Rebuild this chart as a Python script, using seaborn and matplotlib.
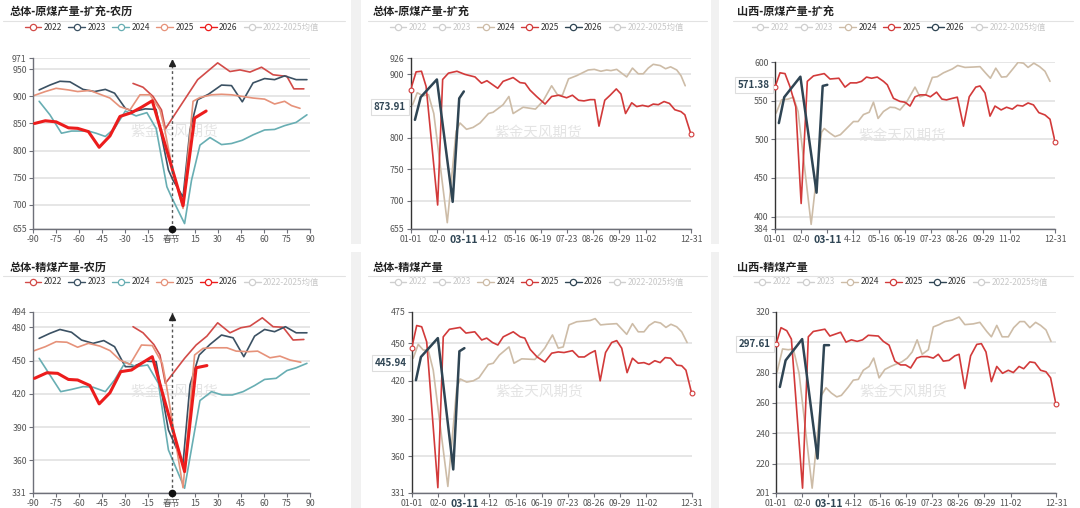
import matplotlib
matplotlib.use('Agg')
import matplotlib.pyplot as plt
from matplotlib.lines import Line2D
from matplotlib.patches import Rectangle
import matplotlib.transforms as mtrans
import pandas as pd
import seaborn as sns

# ---------------- data ----------------
# lunar panels: (days from spring festival, value)
RAW_LUNAR_2022 = [(-25, 924), (-18.5, 917), (-12, 900), (-6.5, 875), (-4, 840), (17, 931), (30, 962),
                  (38, 946), (44.5, 949), (51, 945), (58.5, 954), (66, 940), (75, 937), (79.5, 914), (86, 914)]
RAW_LUNAR_2023 = [(-86, 912), (-79, 921), (-72.5, 928), (-66, 927), (-57.5, 913), (-50, 909), (-43, 913),
                  (-37, 906), (-30, 878), (-25, 872), (-17, 877), (-10, 876), (-2, 764), (1, 745), (7.5, 714),
                  (12, 838), (17, 894), (24, 904), (32.5, 921), (39, 920), (46, 890), (53, 925), (60.5, 933),
                  (67, 931), (73.5, 938), (81, 931), (88, 931)]
RAW_LUNAR_2024 = [(-86, 891), (-79, 866), (-71.5, 832), (-65, 836), (-54, 836), (-49, 832), (-43, 826),
                  (-37, 841), (-30, 873), (-23, 864), (-16, 870), (-10, 841), (-3, 733), (0, 714), (8.5, 665),
                  (13, 745), (18.5, 810), (25, 824), (32.5, 811), (39, 813), (46, 819), (53, 829), (60.5, 838),
                  (67, 839), (73.5, 846), (81, 852), (88, 866)]
RAW_LUNAR_2025 = [(-90, 901), (-82, 909), (-75, 915), (-67, 912), (-61, 909), (-53, 911), (-46.5, 904),
                  (-40, 897), (-33.5, 881), (-27, 875), (-20.5, 903), (-14, 903), (-7.5, 875), (-4.5, 840),
                  (1, 760), (7.5, 693), (14, 891), (18.5, 898), (26, 903), (32.5, 904), (39, 903), (46, 900),
                  (53, 897), (60.5, 895), (67, 886), (73.5, 891), (78, 883), (83.5, 878)]
RAW_LUNAR_2026 = [(-89, 850), (-82, 855), (-75, 853), (-67, 842), (-61, 841), (-54, 835), (-47, 806),
                  (-40, 827), (-33.5, 863), (-26, 870), (-19.5, 880), (-12.5, 892), (7.5, 698), (15, 860),
                  (22.5, 873)]

CLEAN_LUNAR_2022 = [(-25, 480.5), (-18.5, 475), (-11.5, 464.5), (-7.5, 455), (-4, 429.5), (8.5, 452),
                    (16, 464), (23, 472), (30, 484), (38, 475), (45, 479.5), (51, 481), (59, 488.5),
                    (66, 480.5), (72.5, 480), (79, 468.5), (86, 469)]
CLEAN_LUNAR_2023 = [(-86, 470), (-79, 474.5), (-72.5, 478), (-65, 475.5), (-58.5, 468.5), (-51, 465.5),
                    (-44, 468), (-37, 462.5), (-30, 444.5), (-25, 444.5), (-17, 449.5), (-10, 449), (-2, 387.5),
                    (7.5, 357.5), (12, 428), (18, 455), (25, 464.5), (32.5, 473), (40, 470.5), (47, 453.5),
                    (54, 472), (60.5, 478), (67, 476), (74, 480.5), (81, 475), (88, 475)]
CLEAN_LUNAR_2024 = [(-86, 452), (-79, 437), (-72, 422), (-65, 424), (-57.5, 426.5), (-51, 426), (-43, 422),
                    (-37, 432.5), (-30, 448.5), (-23, 444.5), (-15.5, 446), (-8.5, 429.5), (-2, 369.5),
                    (8.5, 335), (18.5, 414), (26, 422), (33, 419), (39.5, 419), (46.5, 422), (54, 427.5),
                    (60.5, 433), (68, 434), (75, 441), (81, 443.5), (88, 447.5)]
CLEAN_LUNAR_2025 = [(-90, 458.5), (-82, 462.5), (-75, 467), (-68, 466.5), (-61, 462), (-54, 465.5),
                    (-46.5, 463), (-40, 459), (-33.5, 450.5), (-27, 446.5), (-19.5, 464), (-12.5, 463.5),
                    (-6, 447.5), (-3.5, 429.5), (7.5, 335.5), (15, 455), (20.5, 461), (27, 461.5), (36, 461.5),
                    (42, 458.5), (50, 458), (56, 458.5), (64, 452.5), (70.5, 454), (77, 450.5), (84, 448.5)]
CLEAN_LUNAR_2026 = [(-89, 434), (-81, 439), (-74, 438.5), (-67, 433), (-61, 432.5), (-53, 427.5), (-47, 411),
                    (-40, 421), (-33, 440), (-26, 441.5), (-19.5, 447.5), (-12.5, 453.5), (8.5, 350),
                    (16, 443.5), (23, 445.5)]

# calendar panels: (day of year, value)
RAW_TOTAL_2024 = [(2.5, 852), (8.5, 871), (16, 866), (23, 868), (30, 838), (47.5, 665), (59, 810), (64, 823),
                  (72.5, 813), (81, 816), (90, 823), (101, 838), (107, 840), (120, 852), (127.5, 865),
                  (133, 838), (146, 848), (162, 845), (172, 858), (183, 882), (191, 867), (197, 867),
                  (205, 893), (215.5, 898), (230.5, 907), (238.5, 908), (247, 905), (254.5, 907), (260, 906),
                  (267.5, 908), (280.5, 896), (288, 910), (295.5, 901), (302, 901), (308.5, 910), (315, 916),
                  (324, 914), (331, 909), (337.5, 912), (345.5, 907), (351, 898), (356.5, 882)]
RAW_TOTAL_2025 = [(0, 876), (7, 904), (14, 905), (20, 881), (35, 693), (41.5, 892), (49, 902), (60, 905),
                  (70.5, 900), (83.5, 896), (92, 886), (99, 890), (113, 878), (120, 889), (133, 895),
                  (142, 887), (148.5, 886), (155, 875), (163.5, 865), (174.5, 853), (183, 865), (192, 867),
                  (202.5, 863), (210, 867), (218, 859), (225, 858), (233, 860), (239, 860), (244.5, 818),
                  (252, 859), (259, 867), (267, 877), (273, 869), (279, 838), (287, 855), (293.5, 849),
                  (301, 851), (308.5, 849), (315, 853), (321.5, 852), (329, 857), (336, 854), (343, 844),
                  (351, 841), (356, 836), (364, 805)]
RAW_TOTAL_2026 = [(5.5, 828), (13, 864), (34, 892), (54.5, 698), (63, 862), (69, 873)]

RAW_SX_2024 = [(1.5, 534), (8.5, 551), (17, 552), (24, 554.5), (30, 536), (47, 390), (60.5, 509), (64, 514),
               (71.5, 508), (78, 503.5), (85, 506), (95, 516), (102, 523), (108, 523), (115, 532),
               (122.5, 535), (128, 548), (134, 527), (141, 536), (149.5, 541.5), (156, 541), (162.5, 538),
               (171, 548), (182, 567.5), (188.5, 555), (196, 557.5), (204.5, 580), (211, 581), (219, 586),
               (230.5, 591), (237.5, 595.5), (247, 593), (258, 593.5), (266.5, 594), (274, 585.5),
               (280, 579), (287, 592), (294.5, 580.5), (301, 581), (310, 592), (316, 599.5), (323, 598.5),
               (329, 593), (336.5, 598.5), (344, 594), (351, 588), (357.5, 575)]
RAW_SX_2025 = [(0, 567.5), (6.5, 586), (13, 585), (19.5, 568), (27, 542), (34, 417), (42, 575), (50, 582),
               (64, 585), (71.5, 578), (83, 579), (91, 567.5), (98, 573), (106, 573), (112.5, 575),
               (119, 580.5), (125.5, 579), (133, 580.5), (141, 575), (146, 570.5), (154, 553), (162.5, 549),
               (169, 548), (175.5, 543), (182, 555), (188.5, 557.5), (196, 557.5), (202, 555), (210, 561),
               (217, 552), (223, 551), (230.5, 553), (237, 554.5), (245, 517), (252.5, 555), (261, 567.5),
               (266.5, 569), (273, 560), (279.5, 530), (286, 543), (294, 538), (301, 541.5), (308.5, 539),
               (315, 544), (322, 543), (329, 547), (336, 544.5), (343, 534.5), (351, 531.5), (357.5, 526),
               (364, 497)]
RAW_SX_2026 = [(5, 521), (12, 554.5), (33, 581), (54, 431), (62, 569), (68, 570.5)]

CLEAN_TOTAL_2024 = [(2, 438), (8.5, 449), (15, 444.5), (21.5, 444.5), (28, 428.5), (47, 336), (58.5, 414),
                    (63, 421.5), (71.5, 419), (80, 420), (87.5, 422.5), (99.5, 433), (106, 434), (114, 440.5),
                    (126.5, 447), (133, 434), (143, 437.5), (160, 437), (167, 441.5), (173, 446),
                    (183, 456.5), (190.5, 446), (197, 447), (204.5, 464.5), (214.5, 467), (232, 468),
                    (238.5, 469.5), (245.5, 464.5), (253.5, 465), (266.5, 465.5), (279.5, 457), (287, 465.5),
                    (294.5, 459), (302, 459), (308.5, 464), (316, 467), (323.5, 466), (330.5, 462.5),
                    (337, 465), (344.5, 463), (351, 459), (358, 450.5)]
CLEAN_TOTAL_2025 = [(0, 446), (6.5, 464), (13, 463), (19.5, 451), (34, 335), (41, 455), (49, 461), (63, 462.5),
                    (70.5, 458), (82, 459), (91, 452.5), (97.5, 454), (105, 450.5), (112, 448.5), (119, 455),
                    (132, 459), (141, 455), (147, 454), (154, 445), (163, 439), (173, 435), (182, 442),
                    (190.5, 443), (198, 442.5), (209, 444), (217, 439), (224.5, 439), (232, 442),
                    (238.5, 444), (245, 420), (252, 442.5), (260, 450.5), (266.5, 452), (273, 446),
                    (280, 426.5), (287, 438), (294.5, 434), (302, 434.5), (308.5, 433), (316, 436),
                    (323, 434.5), (329.5, 438.5), (336.5, 438), (344.5, 432.5), (351, 432), (356.5, 428.5),
                    (364, 410)]
CLEAN_TOTAL_2026 = [(5.5, 420.5), (12, 439), (34, 454), (54, 349.5), (62, 443.5), (68.5, 446)]

CLEAN_SX_2024 = [(1.5, 280.5), (8.5, 295.5), (16, 295), (22.5, 295.5), (30, 279.5), (47, 204), (59, 265),
                 (65, 270), (72, 266.5), (79, 264), (85, 265), (94, 270.5), (100.5, 275), (107, 275.5),
                 (113.5, 281.5), (121, 284), (127, 289.5), (134, 276.5), (141.5, 282), (149, 284),
                 (156, 285.5), (163.5, 287), (170.5, 289.5), (177, 293.5), (183.5, 301.5), (190, 292),
                 (198, 295), (204.5, 310), (212, 311.5), (219.5, 313.5), (229, 314.5), (238, 316.5),
                 (245.5, 311.5), (256.5, 312), (265, 313), (274, 307), (280, 303.5), (287, 311), (294, 303.5),
                 (302, 303.5), (309, 309.5), (317, 313.5), (323, 313.5), (330, 309.5), (337.5, 313),
                 (344, 311), (351, 308), (357.5, 300.5)]
CLEAN_SX_2025 = [(0, 298.5), (6.5, 309.5), (14, 307.5), (20, 302), (34.5, 204), (42, 303.5), (48.5, 307),
                 (63.5, 308.5), (70, 304), (84, 306.5), (91, 300), (98, 301.5), (105.5, 300.5), (112.5, 301.5),
                 (120, 304.5), (133, 304), (139.5, 300.5), (147, 298), (154.5, 287.5), (162, 285),
                 (168.5, 285), (175, 283), (183, 289.5), (189, 290.5), (197, 290.5), (204.5, 289.5),
                 (211, 292), (217.5, 287.5), (225, 288), (232.5, 291), (238, 292), (245.5, 269.5), (253, 291),
                 (261, 298.5), (267, 299), (273, 293.5), (280, 274), (287, 284), (294.5, 279.5), (302, 281.5),
                 (308.5, 280), (316, 284), (322, 282.5), (330, 287), (336.5, 286.5), (344, 281.5),
                 (351, 280.5), (357, 276.5), (364, 259)]
CLEAN_SX_2026 = [(5, 270.5), (12.5, 288), (34, 302), (54, 223.5), (62.5, 298), (69, 298)]

LUNAR_TICKS = [-90, -75, -60, -45, -30, -15, 0, 15, 30, 45, 60, 75, 90]
LUNAR_LABELS = ['-90', '-75', '-60', '-45', '-30', '-15', '春节', '15', '30', '45', '60', '75', '90']
DATE_TICKS = [0, 34, 68, 101, 135, 169, 203, 237, 271, 305, 364]
DATE_LABELS = ['01-01', '02-0', '', '4-12', '05-16', '06-19', '07-23', '08-26', '09-29', '11-02', '12-31']
LEGEND_LABELS = ['2022', '2023', '2024', '2025', '2026', '2022-2025均值']

# ---------------- style ----------------
sns.set_theme(style='white')
plt.rcParams['font.family'] = ['Noto Sans CJK SC', 'DejaVu Sans']

C22, C23, C24, C25, C26 = '#d24b48', '#3b5163', '#68aeb3', '#e6927a', '#ec1c1c'
TAN, RED, NAVY = '#cdbca7', '#d23a3a', '#2f4554'
FADED = '#cfcfcf'
AXIS = '#6e7079'

W, H = 1080, 508
fig = plt.figure(figsize=(W / 100, H / 100), dpi=100)
fig.patch.set_facecolor('white')


def px_axes(x0, y0, x1, y1):
    return fig.add_axes([x0 / W, 1 - y1 / H, (x1 - x0) / W, (y1 - y0) / H])


def draw(ax, pts, color, lw, z=2):
    df = pd.DataFrame(pts, columns=['day', 'value'])
    sns.lineplot(data=df, x='day', y='value', ax=ax, color=color, lw=lw, sort=False,
                 estimator=None, zorder=z)
    ax.set_xlabel('')
    ax.set_ylabel('')


def style(ax, xlim, ylim, yticks, ylabels, xticks, xlabels, spine_col):
    ax.set_xlim(xlim)
    ax.set_ylim(ylim)
    ax.set_yticks(yticks)
    ax.set_yticklabels(ylabels)
    ax.set_xticks(xticks)
    ax.set_xticklabels(xlabels)
    ax.set_facecolor('none')
    ax.grid(axis='y', color='#e4e4e4', lw=1.3)
    ax.grid(axis='x', visible=False)
    ax.set_axisbelow(True)
    for s in ['top', 'right']:
        ax.spines[s].set_visible(False)
    ax.spines['left'].set_color(spine_col)
    ax.spines['bottom'].set_color(AXIS)
    ax.spines['left'].set_linewidth(1)
    ax.spines['bottom'].set_linewidth(1)
    ax.tick_params(bottom=True, left=True, length=3, width=0.8, color=AXIS,
                   labelcolor='#555555', labelsize=6.3, pad=1.5)


def chrome(title, tx, ty, line_x0, line_x1, leg_cx, leg_cy, colors, active):
    fig.text(tx / W, 1 - ty / H, title, fontsize=8, fontweight='bold', color='#222222',
             ha='left', va='center')
    fig.add_artist(Line2D([line_x0 / W, line_x1 / W], [1 - (ty + 9) / H] * 2, color='#e2e2e2', lw=0.8))
    handles = []
    for c in colors:
        handles.append(Line2D([0], [0], color=c, lw=1, marker='o', markersize=4.5,
                              markerfacecolor='white', markeredgecolor=c, markeredgewidth=0.9))
    leg = fig.legend(handles, LEGEND_LABELS, loc='center', bbox_to_anchor=(leg_cx / W, 1 - leg_cy / H),
                     ncol=6, frameon=False, fontsize=6, handlelength=2.0, columnspacing=0.75,
                     handletextpad=0.3, borderpad=0)
    for t, a in zip(leg.get_texts(), active):
        t.set_color('#333333' if a else '#c8c8c8')


def watermark(ax, x, y):
    ax.text(x, y, '紫金天风期货', transform=ax.transAxes, fontsize=10.5, color='#e4e4e4',
            ha='center', va='center', zorder=0.5)


def festival_arrow(ax, lo, hi):
    ax.plot([0, 0], [lo, hi], color='#555555', lw=1, ls=(0, (2, 2)), zorder=5, clip_on=False)
    ax.plot([0], [hi - (hi - lo) * 0.03], marker='^', color='#222222', markersize=5, zorder=6, clip_on=False)
    ax.plot([0], [lo], marker='o', color='#111111', markersize=4.5, zorder=6, clip_on=False)


def pointer(ax, yval, ytext, day=69):
    tr = mtrans.blended_transform_factory(ax.transAxes, ax.transData)
    ax.text(-0.018, yval, ytext, transform=tr, ha='right', va='center', fontsize=7,
            fontweight='bold', color=NAVY, zorder=10, clip_on=False,
            bbox=dict(boxstyle='square,pad=0.3', fc='white', ec='#dddddd', lw=0.8))
    tr2 = mtrans.blended_transform_factory(ax.transData, ax.transAxes)
    ax.text(day, -0.035, '03-11', transform=tr2, ha='center', va='top', fontsize=7.5,
            fontweight='bold', color=NAVY, zorder=10, clip_on=False)


lunar_cols = [C22, C23, C24, C25, C26, FADED]
lunar_active = [True, True, True, True, True, False]
cal_cols = [FADED, FADED, TAN, RED, NAVY, FADED]
cal_active = [False, False, True, True, True, False]

# separators between panels
for x0, x1 in [(351, 361), (711, 719)]:
    for y0, y1 in [(0, 244), (252, 508)]:
        fig.add_artist(Rectangle((x0 / W, 1 - y1 / H), (x1 - x0) / W, (y1 - y0) / H,
                                 transform=fig.transFigure, fc='#f1f1f1', ec='none'))

# ---------- top-left ----------
ax = px_axes(33, 58, 310, 229)
ticks = [655, 700, 750, 800, 850, 900, 950, 971]
style(ax, (-90, 90), (655, 971), ticks, [str(t) for t in ticks], LUNAR_TICKS, LUNAR_LABELS, AXIS)
watermark(ax, 0.51, 0.57)
draw(ax, RAW_LUNAR_2022, C22, 1.2)
draw(ax, RAW_LUNAR_2023, C23, 1.2)
draw(ax, RAW_LUNAR_2024, C24, 1.2)
draw(ax, RAW_LUNAR_2025, C25, 1.2)
draw(ax, RAW_LUNAR_2026, C26, 2.2, z=3)
festival_arrow(ax, 655, 971)
chrome('总体-原煤产量-扩充-农历', 10, 12, 3, 345, 172, 27, lunar_cols, lunar_active)

# ---------- bottom-left ----------
ax = px_axes(33, 311.7, 310, 492.7)
ticks = [331, 360, 390, 420, 450, 480, 494]
style(ax, (-90, 90), (331, 494), ticks, [str(t) for t in ticks], LUNAR_TICKS, LUNAR_LABELS, AXIS)
watermark(ax, 0.51, 0.56)
draw(ax, CLEAN_LUNAR_2022, C22, 1.2)
draw(ax, CLEAN_LUNAR_2023, C23, 1.2)
draw(ax, CLEAN_LUNAR_2024, C24, 1.2)
draw(ax, CLEAN_LUNAR_2025, C25, 1.2)
draw(ax, CLEAN_LUNAR_2026, C26, 2.2, z=3)
festival_arrow(ax, 331, 494)
chrome('总体-精煤产量-农历', 10, 267, 3, 345, 172, 282, lunar_cols, lunar_active)

# ---------- calendar panels ----------
# the hover label in the reference hides one y tick label; that label is left blank here
cal_panels = [
    (410.7, 58, 691, 229, (655, 926), [655, 700, 750, 800, 850, 900, 926],
     ['655', '700', '750', '800', '', '900', '926'], RAW_TOTAL_2024, RAW_TOTAL_2025,
     RAW_TOTAL_2026, 849, '873.91', '总体-原煤产量-扩充', 373, 12, 368, 707, 537, 27),
    (775, 62, 1055, 229, (384, 600), [384, 400, 450, 500, 550, 600],
     ['384', '400', '450', '500', '550', '600'], RAW_SX_2024, RAW_SX_2025,
     RAW_SX_2026, 570, '571.38', '山西-原煤产量-扩充', 737, 12, 733, 1073, 899, 27),
    (411.7, 311.7, 691.7, 492.7, (331, 475), [331, 360, 390, 420, 450, 475],
     ['331', '360', '390', '420', '450', '475'], CLEAN_TOTAL_2024,
     CLEAN_TOTAL_2025, CLEAN_TOTAL_2026, 434, '445.94', '总体-精煤产量', 373, 267, 368, 707, 537, 282),
    (776, 311.7, 1056, 492.7, (201, 320), [201, 220, 240, 260, 280, 300, 320],
     ['201', '220', '240', '260', '280', '', '320'], CLEAN_SX_2024,
     CLEAN_SX_2025, CLEAN_SX_2026, 299, '297.61', '山西-精煤产量', 737, 267, 733, 1073, 901, 282),
]

for (x0, y0, x1, y1, ylim, yticks, ylabels, s24, s25, s26, py, ptxt,
     title, tx, ty, lx0, lx1, lcx, lcy) in cal_panels:
    ax = px_axes(x0, y0, x1, y1)
    style(ax, (0, 364), ylim, yticks, ylabels, DATE_TICKS, DATE_LABELS, '#333333')
    watermark(ax, 0.455, 0.56)
    draw(ax, s24, TAN, 1.2)
    draw(ax, s25, RED, 1.2, z=3)
    draw(ax, s26, NAVY, 1.8, z=4)
    ends = pd.DataFrame([s25[0], s25[-1]], columns=['day', 'value'])
    sns.scatterplot(data=ends, x='day', y='value', ax=ax, s=12, facecolor='white', edgecolor=RED,
                    linewidth=0.8, zorder=5, clip_on=False)
    ax.set_xlabel('')
    ax.set_ylabel('')
    pointer(ax, py, ptxt)
    chrome(title, tx, ty, lx0, lx1, lcx, lcy, cal_cols, cal_active)

fig.savefig('out.png', dpi=100, facecolor='white')
